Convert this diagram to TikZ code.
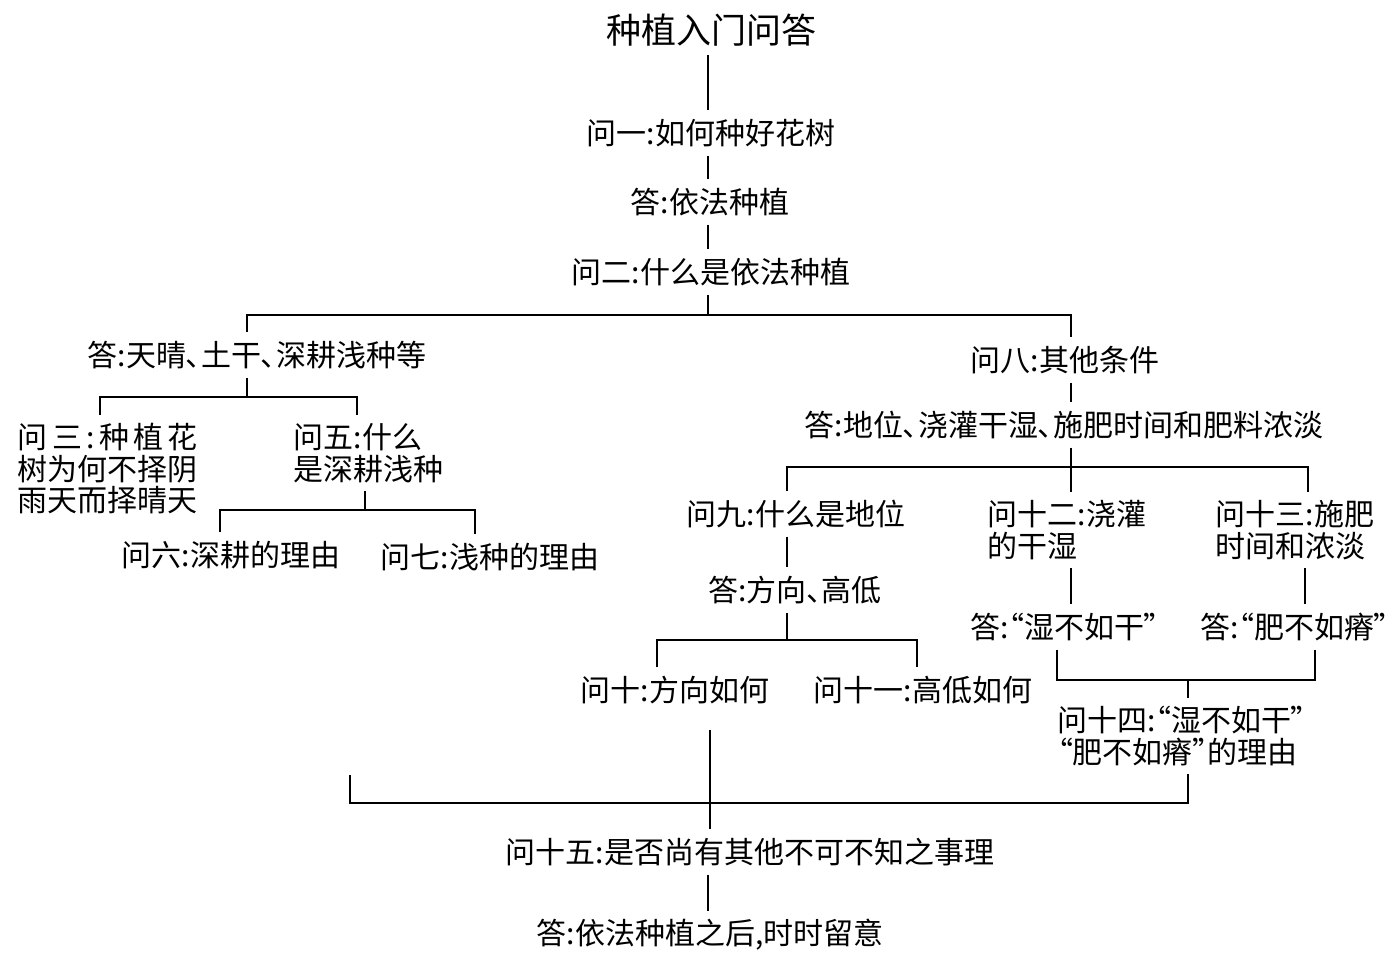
\documentclass[tikz,border=0pt]{standalone}
\usepackage{fontspec}
\newfontfamily\cjk[RawFeature=+palt]{Noto Sans CJK SC}
\begin{document}
\begin{tikzpicture}[x=1pt,y=-1pt,line width=1.6pt,
  txt/.style={font=\cjk\fontsize{30}{31.5}\selectfont,inner xsep=0pt,inner ysep=8pt},
  ttl/.style={font=\cjk\fontsize{35}{40}\selectfont,inner xsep=0pt,inner ysep=8pt},
  ml/.style={txt,align=left,anchor=west}]
\useasboundingbox (0,0) rectangle (1395,960);
% nodes
\node[ttl] (title) at (711,30) {种植入门问答};
\node[txt] (q1) at (711,133) {问一:如何种好花树};
\node[txt] (a1) at (710,202) {答:依法种植};
\node[txt] (q2) at (711,272) {问二:什么是依法种植};
\node[txt] (a2) at (257,355) {答:天晴、土干、深耕浅种等};
\node[txt] (q8) at (1065,360) {问八:其他条件};
\node[txt] (a8) at (1064,425) {答:地位、浇灌干湿、施肥时间和肥料浓淡};
\node[ml] (q3) at (17,469) {\makebox[6em][s]{问\hfill 三\hfill :\hfill 种\hfill 植\hfill 花}\\树为何不择阴\\雨天而择晴天};
\node[ml] (q5) at (293,453) {问五:什么\\是深耕浅种};
\node[txt] (q6) at (231,555) {问六:深耕的理由};
\node[txt] (q7) at (490,557) {问七:浅种的理由};
\node[txt] (q9) at (796,514) {问九:什么是地位};
\node[ml] (q12) at (987,530) {问十二:浇灌\\的干湿};
\node[ml] (q13) at (1215,530) {问十三:施肥\\时间和浓淡};
\node[txt] (a9) at (795,590) {答:方向、高低};
\node[txt] (a12) at (1065,627) {答:“湿不如干”};
\node[txt] (a13) at (1295,627) {答:“肥不如瘠”};
\node[txt] (q10) at (675,690) {问十:方向如何};
\node[txt] (q11) at (923,690) {问十一:高低如何};
\node[ml] (q14) at (1057,736) {问十四:“湿不如干”\\“肥不如瘠”的理由};
\node[txt] (q15) at (750,852) {问十五:是否尚有其他不可不知之事理};
\node[txt] (a15) at (710,935) {答:依法种植之后,时时留意};
% joints
\coordinate (mx) at (708,0);
\coordinate (b1) at (708,315);
\coordinate (b1l) at (247,315);
\coordinate (b1r) at (1071,315);
\coordinate (b2) at (247,397);
\coordinate (b2l) at (100,397);
\coordinate (b2r) at (357,397);
\coordinate (b3) at (365,510);
\coordinate (b3l) at (220,510);
\coordinate (b3r) at (475,510);
\coordinate (b4) at (1071,467);
\coordinate (b4l) at (787,467);
\coordinate (b4r) at (1308,467);
\coordinate (b5) at (787,640);
\coordinate (b5l) at (657,640);
\coordinate (b5r) at (917,640);
\coordinate (c12) at (1071,0);
\coordinate (c13) at (1305,0);
\coordinate (b6) at (1188,680);
\coordinate (b6l) at (1057,680);
\coordinate (b6r) at (1315,680);
\coordinate (b7) at (1188,803);
\coordinate (b7l) at (350,803);
\coordinate (b7lt) at (350,775);
\coordinate (t) at (710,730);
% connectors
\draw (title.south -| mx) -- (q1.north -| mx);
\draw (q1.south -| mx) -- (a1.north -| mx);
\draw (a1.south -| mx) -- (q2.north -| mx);
\draw (q2.south -| mx) -- (b1);
\draw (a2.north -| b1l) -- (b1l) -- (b1r) -- (q8.north -| b1r);
\draw (a2.south -| b2) -- (b2);
\draw (q3.north -| b2l) -- (b2l) -- (b2r) -- (q5.north -| b2r);
\draw (q5.south -| b3) -- (b3);
\draw (q6.north -| b3l) -- (b3l) -- (b3r) -- (q7.north -| b3r);
\draw (q8.south -| b1r) -- (a8.north -| b1r);
\draw (a8.south -| b4) -- (b4);
\draw (q9.north -| b4l) -- (b4l) -- (b4r) -- (q13.north -| b4r);
\draw (b4) -- (q12.north -| b4);
\draw (q9.south -| b4l) -- (a9.north -| b4l);
\draw (a9.south -| b5) -- (b5);
\draw (q10.north -| b5l) -- (b5l) -- (b5r) -- (q11.north -| b5r);
\draw (q12.south -| c12) -- (a12.north -| c12);
\draw (q13.south -| c13) -- (a13.north -| c13);
\draw (a12.south -| b6l) -- (b6l) -- (b6r) -- (a13.south -| b6r);
\draw (b6) -- (q14.north -| b6);
\draw (q14.south -| b7) -- (b7) -- (b7l) -- (b7lt);
\draw (t) -- (q15.north -| t);
\draw (q15.south -| mx) -- (a15.north -| mx);
\end{tikzpicture}
\end{document}
